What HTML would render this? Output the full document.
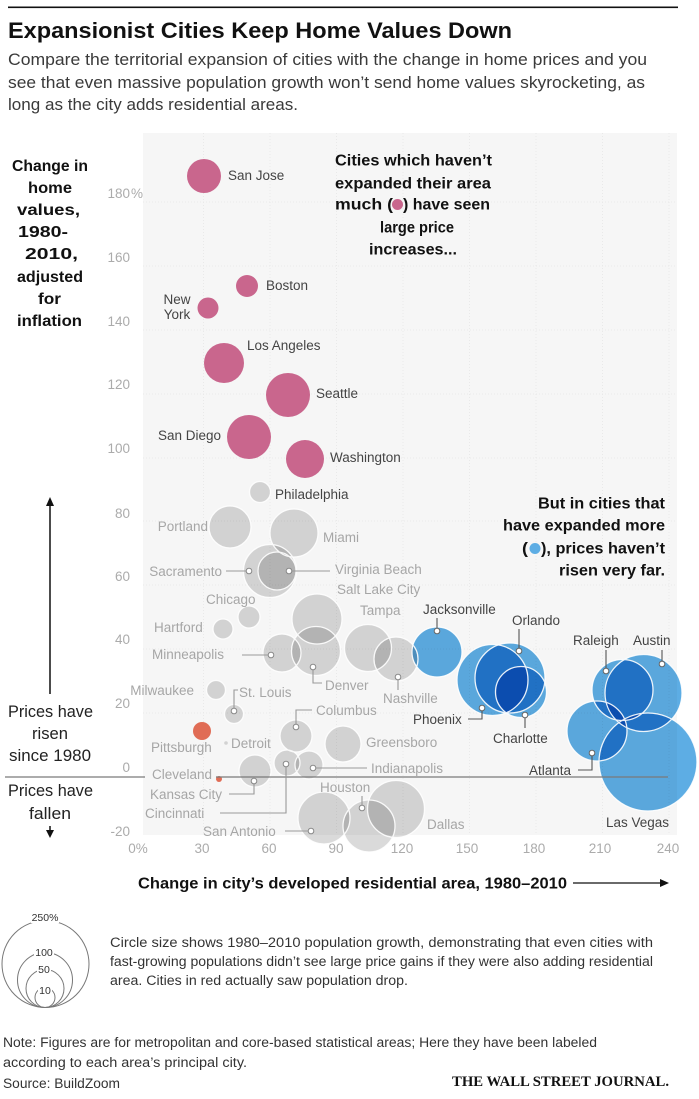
<!DOCTYPE html>
<html><head><meta charset="utf-8"><style>
html,body{margin:0;padding:0;background:#fff;}
svg{display:block;}
text{font-family:"Liberation Sans",sans-serif;}
.lbl{font-size:13.5px;fill:#a6a6a6;}
.dk{font-size:13.5px;fill:#444;}
.tick{font-size:13.5px;fill:#ababab;}
.mul{mix-blend-mode:multiply;}
</style></head><body>
<svg width="699" height="1099" viewBox="0 0 699 1099" xmlns="http://www.w3.org/2000/svg">
<rect x="0" y="0" width="699" height="1099" fill="#fff"/>
<!-- top rule -->
<rect x="8" y="6.5" width="670" height="1.6" fill="#111"/>
<text x="8" y="38" font-size="22" font-weight="bold" fill="#111" textLength="504" lengthAdjust="spacingAndGlyphs">Expansionist Cities Keep Home Values Down</text>
<text x="8" y="65" font-size="16.5" fill="#3a3a3a" textLength="639" lengthAdjust="spacingAndGlyphs">Compare the territorial expansion of cities with the change in home prices and you</text>
<text x="8" y="88" font-size="16.5" fill="#3a3a3a" textLength="637" lengthAdjust="spacingAndGlyphs">see that even massive population growth won’t send home values skyrocketing, as</text>
<text x="8" y="110" font-size="16.5" fill="#3a3a3a" textLength="290" lengthAdjust="spacingAndGlyphs">long as the city adds residential areas.</text>

<!-- plot bg -->
<rect x="143" y="133" width="534" height="702" fill="#f6f6f6"/>
<g stroke="#e9e9e9" stroke-width="1" stroke-dasharray="1,2">
<line x1="143" x2="677" y1="202" y2="202"/>
<line x1="143" x2="677" y1="266" y2="266"/>
<line x1="143" x2="677" y1="330" y2="330"/>
<line x1="143" x2="677" y1="394" y2="394"/>
<line x1="143" x2="677" y1="458" y2="458"/>
<line x1="143" x2="677" y1="521" y2="521"/>
<line x1="143" x2="677" y1="585" y2="585"/>
<line x1="143" x2="677" y1="649" y2="649"/>
<line x1="143" x2="677" y1="713" y2="713"/>
<line y1="133" y2="835" x1="203.5" x2="203.5"/>
<line y1="133" y2="835" x1="270" x2="270"/>
<line y1="133" y2="835" x1="336.5" x2="336.5"/>
<line y1="133" y2="835" x1="403" x2="403"/>
<line y1="133" y2="835" x1="469.5" x2="469.5"/>
<line y1="133" y2="835" x1="536" x2="536"/>
<line y1="133" y2="835" x1="602.5" x2="602.5"/>
<line y1="133" y2="835" x1="669" x2="669"/>
</g>

<!-- y axis title -->
<g font-size="16" font-weight="bold" fill="#111" text-anchor="start">
<text x="12" y="171" textLength="76" lengthAdjust="spacingAndGlyphs">Change in</text>
<text x="28" y="193" textLength="44" lengthAdjust="spacingAndGlyphs">home</text>
<text x="17" y="215" textLength="63" lengthAdjust="spacingAndGlyphs">values,</text>
<text x="18" y="237" textLength="50" lengthAdjust="spacingAndGlyphs">1980-</text>
<text x="25" y="259" textLength="53" lengthAdjust="spacingAndGlyphs">2010,</text>
<text x="17" y="282" textLength="66" lengthAdjust="spacingAndGlyphs">adjusted</text>
<text x="38" y="304" textLength="23" lengthAdjust="spacingAndGlyphs">for</text>
<text x="17" y="326" textLength="65" lengthAdjust="spacingAndGlyphs">inflation</text>
</g>

<!-- up arrow -->
<line x1="50" y1="694" x2="50" y2="504" stroke="#111" stroke-width="1.5"/>
<polygon points="50,497 46,506 54,506" fill="#111"/>
<g font-size="16.5" fill="#222">
<text x="8" y="717" textLength="85" lengthAdjust="spacingAndGlyphs">Prices have</text>
<text x="32" y="739" textLength="36" lengthAdjust="spacingAndGlyphs">risen</text>
<text x="9" y="761" textLength="82" lengthAdjust="spacingAndGlyphs">since 1980</text>
<text x="8" y="796" textLength="85" lengthAdjust="spacingAndGlyphs">Prices have</text>
<text x="29" y="819" textLength="42" lengthAdjust="spacingAndGlyphs">fallen</text>
</g>
<line x1="50" y1="826" x2="50" y2="832" stroke="#111" stroke-width="1.5"/>
<polygon points="50,838 46,830 54,830" fill="#111"/>

<!-- y tick labels -->
<g class="tick" text-anchor="end">
<text x="130" y="198">180</text>
<text x="130" y="262">160</text>
<text x="130" y="326">140</text>
<text x="130" y="389">120</text>
<text x="130" y="453">100</text>
<text x="130" y="518">80</text>
<text x="130" y="581">60</text>
<text x="130" y="644">40</text>
<text x="130" y="708">20</text>
<text x="130" y="772">0</text>
<text x="130" y="836">-20</text>
</g>
<text class="tick" x="131" y="198">%</text>

<!-- x tick labels -->
<g class="tick" text-anchor="middle">
<text x="138" y="853">0%</text>
<text x="202" y="853">30</text>
<text x="269" y="853">60</text>
<text x="336" y="853">90</text>
<text x="402" y="853">120</text>
<text x="467" y="853">150</text>
<text x="534" y="853">180</text>
<text x="600" y="853">210</text>
<text x="668" y="853">240</text>
</g>

<!-- gray + blue fills (multiply) -->
<g fill="#dadada">
<circle class="mul" cx="260" cy="492" r="10.5"/>
<circle class="mul" cx="230" cy="527" r="21"/>
<circle class="mul" cx="294" cy="533" r="24"/>
<circle class="mul" cx="270" cy="571" r="26.5"/>
<circle class="mul" cx="277" cy="571" r="19"/>
<circle class="mul" cx="249" cy="617" r="11"/>
<circle class="mul" cx="223" cy="629" r="10"/>
<circle class="mul" cx="317" cy="619" r="25"/>
<circle class="mul" cx="282" cy="653" r="19"/>
<circle class="mul" cx="316" cy="651" r="24.5"/>
<circle class="mul" cx="368" cy="648" r="23.5"/>
<circle class="mul" cx="396" cy="659" r="22"/>
<circle class="mul" cx="216" cy="690" r="9.5"/>
<circle class="mul" cx="234" cy="714" r="9.5"/>
<circle class="mul" cx="296" cy="736" r="16"/>
<circle class="mul" cx="343" cy="744" r="18"/>
<circle class="mul" cx="287" cy="763" r="13"/>
<circle class="mul" cx="309" cy="765" r="14"/>
<circle class="mul" cx="255" cy="771" r="16"/>
<circle class="mul" cx="226" cy="743" r="1.8"/>
<circle class="mul" cx="324" cy="818" r="26"/>
<circle class="mul" cx="369" cy="826" r="26"/>
<circle class="mul" cx="396" cy="809" r="28.5"/>
</g>
<g fill="#5dade4">
<circle class="mul" cx="437" cy="652" r="25"/>
<circle class="mul" cx="492.5" cy="680" r="35.5"/>
<circle class="mul" cx="510" cy="678" r="35"/>
<circle class="mul" cx="521" cy="692" r="25.5"/>
<circle class="mul" cx="622.5" cy="690" r="30.5"/>
<circle class="mul" cx="643.5" cy="693" r="38.5"/>
<circle class="mul" cx="597" cy="731" r="30"/>
<circle class="mul" cx="648" cy="762" r="49"/>
</g>
<!-- white outlines -->
<g fill="none" stroke="#fff" stroke-width="1.3" opacity="0.9">
<circle cx="260" cy="492" r="10.5"/>
<circle cx="230" cy="527" r="21"/>
<circle cx="294" cy="533" r="24"/>
<circle cx="270" cy="571" r="26.5"/>
<circle cx="277" cy="571" r="19"/>
<circle cx="249" cy="617" r="11"/>
<circle cx="223" cy="629" r="10"/>
<circle cx="317" cy="619" r="25"/>
<circle cx="282" cy="653" r="19"/>
<circle cx="316" cy="651" r="24.5"/>
<circle cx="368" cy="648" r="23.5"/>
<circle cx="396" cy="659" r="22"/>
<circle cx="216" cy="690" r="9.5"/>
<circle cx="234" cy="714" r="9.5"/>
<circle cx="296" cy="736" r="16"/>
<circle cx="343" cy="744" r="18"/>
<circle cx="287" cy="763" r="13"/>
<circle cx="309" cy="765" r="14"/>
<circle cx="255" cy="771" r="16"/>
<circle cx="324" cy="818" r="26"/>
<circle cx="369" cy="826" r="26"/>
<circle cx="396" cy="809" r="28.5"/>
<circle cx="437" cy="652" r="25"/>
<circle cx="492.5" cy="680" r="35.5"/>
<circle cx="510" cy="678" r="35"/>
<circle cx="521" cy="692" r="25.5"/>
<circle cx="622.5" cy="690" r="30.5"/>
<circle cx="643.5" cy="693" r="38.5"/>
<circle cx="597" cy="731" r="30"/>
<circle cx="648" cy="762" r="49"/>
</g>

<!-- pink circles -->
<g fill="#c9668d">
<circle cx="204" cy="176" r="17"/>
<circle cx="247" cy="286" r="11"/>
<circle cx="208" cy="308" r="10.5"/>
<circle cx="224" cy="363" r="20"/>
<circle cx="288" cy="395" r="22"/>
<circle cx="249" cy="437" r="22"/>
<circle cx="305" cy="459" r="19"/>
</g>
<!-- red -->
<circle cx="202" cy="731" r="9" fill="#e06c55"/>
<circle cx="219" cy="779" r="3" fill="#e06c55"/>

<!-- zero line -->
<line x1="5" y1="777" x2="145" y2="777" stroke="#7a7a7a" stroke-width="1.2"/>
<line x1="216" y1="777" x2="668" y2="777" stroke="#7a7a7a" stroke-width="1.2"/>

<!-- leader lines gray -->
<g fill="none" stroke="#999" stroke-width="1.1">
<polyline points="226,571 246,571"/>
<polyline points="292,571 330,571"/>
<polyline points="242,655 268,655"/>
<polyline points="313,670 313,683 322,683"/>
<polyline points="398,680 398,690"/>
<polyline points="234,708 234,690 238,690"/>
<polyline points="296,724 296,710 312,710"/>
<polyline points="286,767 286,813 220,813"/>
<polyline points="316,768 367,768"/>
<polyline points="254,784 254,794 229,794"/>
<polyline points="362,805 362,796"/>
<polyline points="285,831 308,831"/>
</g>
<g fill="none" stroke="#555" stroke-width="1.1">
<polyline points="437,628 437,618"/>
<polyline points="519,648 519,629"/>
<polyline points="482,711 482,719 468,719"/>
<polyline points="525,718 525,728"/>
<polyline points="606,668 606,650"/>
<polyline points="662,661 662,650"/>
<polyline points="592,756 592,770 578,770"/>
</g>
<g fill="#fff" stroke="#888" stroke-width="1">
<circle cx="249" cy="571" r="2.8"/>
<circle cx="289" cy="571" r="2.8"/>
<circle cx="271" cy="655" r="2.8"/>
<circle cx="313" cy="667" r="2.8"/>
<circle cx="398" cy="677" r="2.8"/>
<circle cx="234" cy="711" r="2.8"/>
<circle cx="296" cy="727" r="2.8"/>
<circle cx="286" cy="764" r="2.8"/>
<circle cx="313" cy="768" r="2.8"/>
<circle cx="254" cy="781" r="2.8"/>
<circle cx="362" cy="808" r="2.8"/>
<circle cx="311" cy="831" r="2.8"/>
</g>
<g fill="#fff" stroke="#666" stroke-width="1">
<circle cx="437" cy="631" r="2.8"/>
<circle cx="519" cy="651" r="2.8"/>
<circle cx="482" cy="708" r="2.8"/>
<circle cx="525" cy="715" r="2.8"/>
<circle cx="606" cy="671" r="2.8"/>
<circle cx="662" cy="664" r="2.8"/>
<circle cx="592" cy="753" r="2.8"/>
</g>

<!-- dark labels -->
<g class="dk">
<text x="228" y="180">San Jose</text>
<text x="266" y="290">Boston</text>
<text x="177" y="304" text-anchor="middle">New</text>
<text x="177" y="319" text-anchor="middle">York</text>
<text x="247" y="350">Los Angeles</text>
<text x="316" y="398">Seattle</text>
<text x="221" y="440" text-anchor="end">San Diego</text>
<text x="330" y="462">Washington</text>
<text x="275" y="499">Philadelphia</text>
<text x="423" y="614">Jacksonville</text>
<text x="512" y="625">Orlando</text>
<text x="413" y="724">Phoenix</text>
<text x="493" y="743">Charlotte</text>
<text x="573" y="645">Raleigh</text>
<text x="633" y="645">Austin</text>
<text x="529" y="775">Atlanta</text>
<text x="606" y="827">Las Vegas</text>
</g>
<!-- gray labels -->
<g class="lbl">
<text x="208" y="531" text-anchor="end">Portland</text>
<text x="323" y="542">Miami</text>
<text x="222" y="576" text-anchor="end">Sacramento</text>
<text x="335" y="574">Virginia Beach</text>
<text x="337" y="594">Salt Lake City</text>
<text x="206" y="604">Chicago</text>
<text x="154" y="632">Hartford</text>
<text x="360" y="615">Tampa</text>
<text x="152" y="659">Minneapolis</text>
<text x="325" y="690">Denver</text>
<text x="383" y="703">Nashville</text>
<text x="194" y="695" text-anchor="end">Milwaukee</text>
<text x="239" y="697">St. Louis</text>
<text x="316" y="715">Columbus</text>
<text x="151" y="752">Pittsburgh</text>
<text x="231" y="748">Detroit</text>
<text x="366" y="747">Greensboro</text>
<text x="152" y="779">Cleveland</text>
<text x="371" y="773">Indianapolis</text>
<text x="150" y="799">Kansas City</text>
<text x="145" y="818">Cincinnati</text>
<text x="320" y="792">Houston</text>
<text x="203" y="836">San Antonio</text>
<text x="427" y="829">Dallas</text>
</g>

<!-- annotation left -->
<g font-size="15.5" font-weight="bold" fill="#111">
<text x="335" y="165.5" textLength="157" lengthAdjust="spacingAndGlyphs">Cities which haven’t</text>
<text x="335" y="188.5" textLength="156" lengthAdjust="spacingAndGlyphs">expanded their area</text>
<text x="335" y="209.5" textLength="58" lengthAdjust="spacingAndGlyphs">much (</text>
<text x="403" y="209.5" textLength="87" lengthAdjust="spacingAndGlyphs">) have seen</text>
<text x="380" y="232.5" textLength="74" lengthAdjust="spacingAndGlyphs">large price</text>
<text x="369" y="254.5" textLength="88" lengthAdjust="spacingAndGlyphs">increases...</text>
</g>
<circle cx="397.5" cy="204.5" r="5.5" fill="#c9668d"/>
<!-- annotation right -->
<g font-size="15.5" font-weight="bold" fill="#111">
<text x="538" y="508.5" textLength="127" lengthAdjust="spacingAndGlyphs">But in cities that</text>
<text x="503" y="530.5" textLength="162" lengthAdjust="spacingAndGlyphs">have expanded more</text>
<text x="522" y="553.5" textLength="6" lengthAdjust="spacingAndGlyphs">(</text>
<text x="541" y="553.5" textLength="124" lengthAdjust="spacingAndGlyphs">), prices haven’t</text>
<text x="559" y="575.5" textLength="106" lengthAdjust="spacingAndGlyphs">risen very far.</text>
</g>
<circle cx="535" cy="548.5" r="5.5" fill="#5dade4"/>

<!-- x axis title -->
<text x="138" y="888.5" font-size="15.5" font-weight="bold" fill="#111" textLength="429" lengthAdjust="spacingAndGlyphs">Change in city’s developed residential area, 1980–2010</text>
<line x1="573" y1="883" x2="662" y2="883" stroke="#111" stroke-width="1.3"/>
<polygon points="669,883 660,879 660,887" fill="#111"/>

<!-- legend -->
<g fill="none" stroke="#777" stroke-width="1">
<circle cx="45.5" cy="964" r="43.5"/>
<circle cx="45" cy="980" r="27.5"/>
<circle cx="45" cy="988.5" r="19"/>
<circle cx="45" cy="997.5" r="10"/>
</g>
<g fill="#fff">
<rect x="31" y="911" width="28" height="12"/>
<rect x="34" y="946" width="20" height="12"/>
<rect x="37" y="963" width="14" height="12"/>
<rect x="38" y="984" width="14" height="12"/>
</g>
<g font-size="10.5" fill="#333" text-anchor="middle">
<text x="45" y="921">250%</text>
<text x="44" y="956">100</text>
<text x="44" y="973">50</text>
<text x="45" y="994">10</text>
</g>
<g font-size="13.5" fill="#333">
<text x="110" y="947" textLength="543" lengthAdjust="spacingAndGlyphs">Circle size shows 1980–2010 population growth, demonstrating that even cities with</text>
<text x="110" y="966" textLength="543" lengthAdjust="spacingAndGlyphs">fast-growing populations didn’t see large price gains if they were also adding residential</text>
<text x="110" y="985" textLength="298" lengthAdjust="spacingAndGlyphs">area. Cities in red actually saw population drop.</text>
<text x="3" y="1047" textLength="594" lengthAdjust="spacingAndGlyphs">Note: Figures are for metropolitan and core-based statistical areas; Here they have been labeled</text>
<text x="3" y="1067" textLength="244" lengthAdjust="spacingAndGlyphs">according to each area’s principal city.</text>
<text x="3" y="1088" textLength="117" lengthAdjust="spacingAndGlyphs">Source: BuildZoom</text>
</g>
<text x="452" y="1086" style="font-family:'Liberation Serif',serif;font-size:14.5px;font-weight:bold;" fill="#111" textLength="217" lengthAdjust="spacingAndGlyphs">THE WALL STREET JOURNAL.</text>
</svg>
</body></html>
